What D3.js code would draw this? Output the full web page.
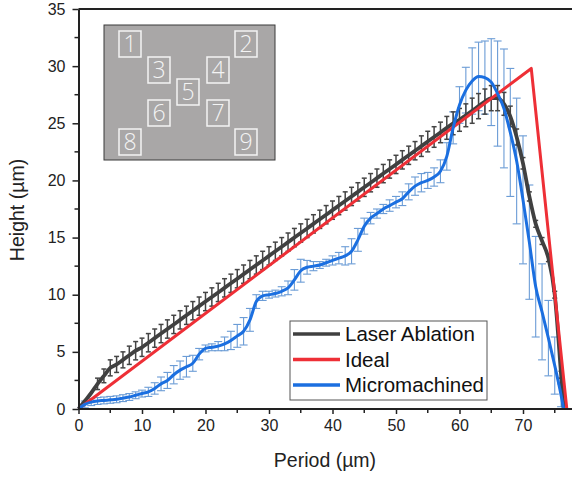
<!DOCTYPE html>
<html>
<head>
<meta charset="utf-8">
<script src="https://cdn.jsdelivr.net/npm/d3@7"></script>
<style>
  body { margin: 0; background: #fff; }
  text { font-family: "Liberation Sans", Arial, sans-serif; }
</style>
</head>
<body>
<script>
// period positions (µm) shared by the measured curves
var periods = [0,1,2,3,4,5,6,7,8,9,10,11,12,13,14,15,16,17,18,19,20,21,22,23,24,25,26,27,28,29,30,
  31,32,33,34,35,36,37,38,39,40,41,42,43,44,45,46,47,48,49,50,51,52,53,54,55,56,57,58,59,60,
  61,62,63,64,65,66,67,68,69,70,71,72,73,74,75,76]

// laser ablation heights (µm)
var laserHeight = [0,0.7,1.4,2.2,2.9,3.6,3.9,4.3,4.7,5.1,5.4,5.8,6.2,6.6,7.0,7.4,7.8,8.2,8.6,9.0,9.4,
  9.8,10.2,10.6,11.0,11.4,11.8,12.2,12.6,13.0,13.4,13.8,14.2,14.6,15.0,15.4,15.8,16.2,16.6,17.0,17.4,
  17.8,18.2,18.6,19.0,19.4,19.8,20.2,20.6,21.0,21.4,21.8,22.2,22.6,23.0,23.4,23.8,24.2,24.6,25.0,25.3,
  25.7,26.1,26.5,26.9,27.2,27.2,26.7,25.6,23.8,21.5,18.6,16.2,14.7,13.2,10.0,3.0]
var laserErr = [0.2,0.3,0.4,0.5,0.6,0.7,0.7,0.7,0.8,0.8,0.8,0.8,0.8,0.8,0.8,0.8,0.8,0.8,0.8,0.8,0.8,
  0.8,0.8,0.8,0.8,0.8,0.8,0.8,0.8,0.8,0.8,0.8,0.8,0.8,0.8,0.8,0.8,0.8,0.8,0.8,0.8,
  0.8,0.8,0.8,0.8,0.8,0.8,0.8,0.8,0.8,0.8,0.8,0.8,0.8,0.9,0.9,0.9,0.9,1.0,1.0,1.0,
  1.0,1.1,1.1,1.1,1.1,1.1,1.0,0.9,0.7,0.5,0.4,0.3,0.3,0.3,0.3,0.3]

// micromachined heights (µm) and their error bars
var microHeight = [0,0.4,0.6,0.7,0.75,0.8,0.85,0.95,1.05,1.2,1.35,1.5,1.8,2.2,2.5,3.0,3.4,3.7,4.0,4.8,5.3,
  5.4,5.5,5.7,6.0,6.4,6.8,7.8,9.4,9.9,10.0,10.1,10.3,10.6,11.3,12.1,12.4,12.5,12.6,12.8,13.0,
  13.2,13.4,13.8,14.8,16.0,16.7,17.1,17.5,17.8,18.1,18.4,19.0,19.5,19.8,20.0,20.3,20.8,22.1,24.6,26.6,
  27.9,28.7,29.1,29.0,28.6,27.6,26.3,24.2,21.7,18.3,14.6,10.7,8.5,6.2,3.8,1.2]
var microErr = [0.2,0.3,0.3,0.3,0.3,0.3,0.3,0.3,0.3,0.3,0.3,0.4,0.5,0.6,0.7,0.8,0.8,0.9,0.7,0.5,0.3,
  0.3,0.4,0.6,0.8,1.0,1.2,1.0,0.6,0.4,0.3,0.3,0.4,0.6,0.9,1.0,0.6,0.4,0.3,0.3,0.4,
  0.5,0.8,1.1,1.0,0.7,0.5,0.4,0.4,0.5,0.5,0.6,0.7,0.8,0.8,0.7,0.8,1.0,1.2,1.4,1.6,
  2.0,2.9,3.0,3.2,3.8,4.6,5.2,5.6,5.5,5.6,5.0,4.4,4.2,3.3,2.5,1.0]

// ideal triangular profile
var idealPeriod = [0, 71.3, 76.9]
var idealHeight = [0, 29.8, 0]

// last points where the measured curves reach the baseline
var laserEnd = [76.4, 0]
var microEnd = [76.4, 0]

var xTicks = [0,10,20,30,40,50,60,70]
var yTicks = [0,5,10,15,20,25,30,35]
var seriesNames = ['Laser Ablation', 'Ideal', 'Micromachined']
var seriesColors = ['#404040', '#ee2f36', '#1b6fe0']
var insetLabels = ['1','2','3','4','5','6','7','8','9']
var insetCols = [0, 4, 1, 3, 2, 1, 3, 0, 4]
var insetRows = [0, 0, 1, 1, 2, 3, 3, 4, 4]

var width = 572, height = 478
var margin = {left: 78.5, top: 9, right: 0, bottom: 69}

var svg = d3.select('body').append('svg').attr('width', width).attr('height', height)

var x = d3.scaleLinear().domain([0, 70]).range([margin.left, 523])
var y = d3.scaleLinear().domain([0, 35]).range([height - margin.bottom, margin.top])

var laser = periods.map((p, i) => ({p: p, h: laserHeight[i], e: laserErr[i]}))
var micro = periods.map((p, i) => ({p: p, h: microHeight[i], e: microErr[i]}))
var ideal = idealPeriod.map((p, i) => ({p: p, h: idealHeight[i]}))
var laserLine = laser.concat([{p: laserEnd[0], h: laserEnd[1]}])
var microLine = micro.concat([{p: microEnd[0], h: microEnd[1]}])

var plot = svg.append('g')

// error bars
function errorBars(data, color, cap, sw) {
  var g = plot.append('g').attr('stroke', color).attr('stroke-width', sw)
  g.selectAll('line.v').data(data).enter().append('line')
    .attr('x1', d => x(d.p)).attr('x2', d => x(d.p))
    .attr('y1', d => y(d.h + d.e)).attr('y2', d => y(Math.max(0, d.h - d.e)))
  g.selectAll('line.t').data(data).enter().append('line')
    .attr('x1', d => x(d.p) - cap).attr('x2', d => x(d.p) + cap)
    .attr('y1', d => y(d.h + d.e)).attr('y2', d => y(d.h + d.e))
  g.selectAll('line.b').data(data.filter(d => d.h - d.e > 0)).enter().append('line')
    .attr('x1', d => x(d.p) - cap).attr('x2', d => x(d.p) + cap)
    .attr('y1', d => y(d.h - d.e)).attr('y2', d => y(d.h - d.e))
}
errorBars(micro.slice(1), '#6b9cd6', 4, 1.1)
errorBars(laser.slice(3), '#454545', 2.5, 1.5)

var smooth = d3.line().x(d => x(d.p)).y(d => y(d.h)).curve(d3.curveMonotoneX)
var straight = d3.line().x(d => x(d.p)).y(d => y(d.h))

plot.append('path').attr('d', smooth(laserLine)).attr('fill', 'none')
  .attr('stroke', seriesColors[0]).attr('stroke-width', 3.8)
plot.append('path').attr('d', straight(ideal)).attr('fill', 'none')
  .attr('stroke', seriesColors[1]).attr('stroke-width', 3).attr('stroke-linejoin', 'round')
plot.append('path').attr('d', smooth(microLine)).attr('fill', 'none')
  .attr('stroke', seriesColors[2]).attr('stroke-width', 3)

// axes
var xAxis = d3.axisBottom(x).tickValues(xTicks).tickSize(5).tickSizeOuter(0).tickPadding(6)
var yAxis = d3.axisLeft(y).tickValues(yTicks).tickSize(6).tickSizeOuter(0).tickPadding(7)

var xg = svg.append('g').attr('transform', `translate(0, ${y(0)})`).call(xAxis)
var yg = svg.append('g').attr('transform', `translate(${margin.left}, 0)`).call(yAxis)

// minor ticks
svg.append('g').selectAll('line').data([5,15,25,35,45,55,65,75]).enter().append('line')
  .attr('x1', d => x(d)).attr('x2', d => x(d)).attr('y1', y(0)).attr('y2', y(0) + 4)
  .attr('stroke', '#222').attr('stroke-width', 1.5)
svg.append('g').selectAll('line').data([2.5,7.5,12.5,17.5,22.5,27.5,32.5]).enter().append('line')
  .attr('x1', margin.left - 4).attr('x2', margin.left).attr('y1', d => y(d)).attr('y2', d => y(d))
  .attr('stroke', '#222').attr('stroke-width', 1.5)

xg.select('.domain').attr('d', `M${margin.left},0H${width}`)
svg.selectAll('.domain').attr('stroke', '#222').attr('stroke-width', 2)
svg.selectAll('.tick line').attr('stroke', '#222').attr('stroke-width', 1.5)
svg.selectAll('.tick text').attr('font-size', 16).attr('fill', '#222')
  .style('font-family', '"Liberation Sans", Arial, sans-serif')

// top frame
svg.append('line').attr('x1', margin.left).attr('x2', width).attr('y1', y(35)).attr('y2', y(35))
  .attr('stroke', '#222').attr('stroke-width', 2)

// titles
svg.append('text').attr('x', 325).attr('y', 467).attr('text-anchor', 'middle')
  .attr('font-size', 19.5).attr('fill', '#222').text('Period (µm)')
svg.append('text').attr('transform', 'translate(24, 210) rotate(-90)').attr('text-anchor', 'middle')
  .attr('font-size', 19.5).attr('fill', '#222').text('Height (µm)')

// legend
var legend = svg.append('g').attr('transform', 'translate(290, 321)')
legend.append('rect').attr('width', 197).attr('height', 79)
  .attr('fill', '#fff').attr('stroke', '#555').attr('stroke-width', 1)
seriesNames.forEach(function(name, i) {
  var ly = 13 + i * 25.5
  legend.append('line').attr('x1', 3).attr('x2', 50).attr('y1', ly).attr('y2', ly)
    .attr('stroke', seriesColors[i]).attr('stroke-width', 3.5)
  legend.append('text').attr('x', 55).attr('y', ly).attr('dy', '0.36em')
    .attr('font-size', 20.5).attr('fill', '#111').text(name)
})

// inset image of the 3x3 pattern
var inset = svg.append('g').attr('transform', 'translate(104, 25)')
inset.append('rect').attr('width', 171).attr('height', 135)
  .attr('fill', '#a9a7a7').attr('stroke', '#3a3a3a').attr('stroke-width', 1)
var colX = [26, 55, 84, 114, 142]
var rowY = [19, 45, 67, 88, 117]
insetLabels.forEach(function(lab, i) {
  var cx = colX[insetCols[i]], cy = rowY[insetRows[i]]
  inset.append('rect').attr('x', cx - 11).attr('y', cy - 13).attr('width', 22).attr('height', 26)
    .attr('fill', 'none').attr('stroke', '#f4f4f4').attr('stroke-width', 1.5)
  inset.append('text').attr('x', cx).attr('y', cy).attr('dy', '0.36em').attr('text-anchor', 'middle')
    .attr('font-size', 23).attr('fill', '#f4f4f4').style('font-family', '"Open Sans", sans-serif')
    .style('font-weight', 300).text(lab)
})
</script>
</body>
</html>
